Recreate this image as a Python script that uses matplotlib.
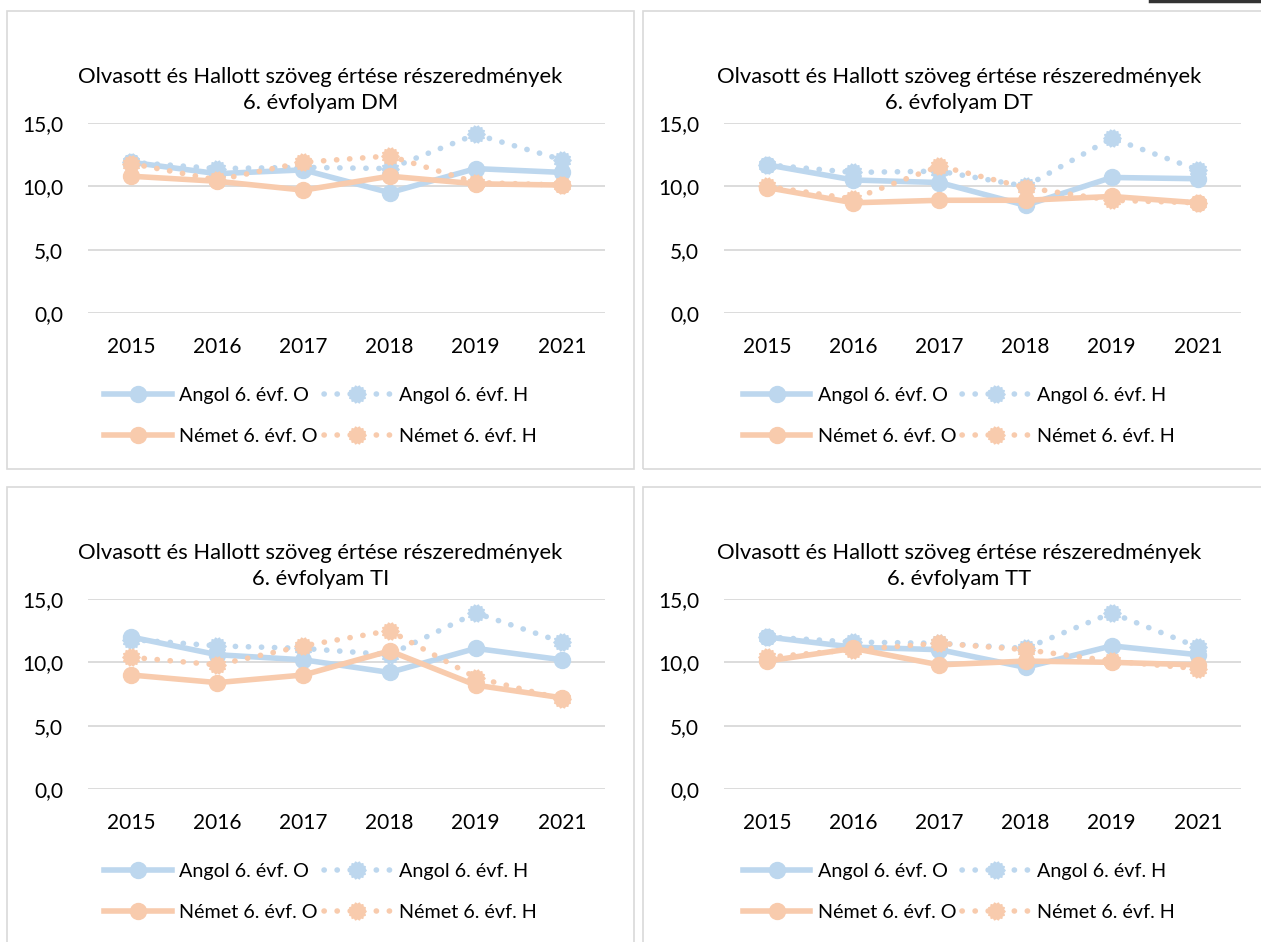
import numpy as np
import matplotlib
matplotlib.use("Agg")
import matplotlib.pyplot as plt
from matplotlib.path import Path
from matplotlib.patches import Rectangle
from matplotlib.lines import Line2D

plt.rcParams['font.family'] = ['Lato', 'DejaVu Sans']

# adatok
years = ['2015', '2016', '2017', '2018', '2019', '2021']
titles = ['6. évfolyam DM', '6. évfolyam DT', '6. évfolyam TI', '6. évfolyam TT']

angol_o = [
    [11.9, 11.0, 11.3, 9.5, 11.4, 11.1],
    [11.7, 10.5, 10.3, 8.5, 10.7, 10.6],
    [12.0, 10.6, 10.2, 9.2, 11.1, 10.2],
    [12.0, 11.2, 11.0, 9.6, 11.3, 10.6],
]
angol_h = [
    [11.9, 11.4, 11.5, 11.4, 14.1, 12.1],
    [11.7, 11.1, 11.2, 10.0, 13.8, 11.3],
    [11.8, 11.3, 11.1, 10.6, 13.9, 11.6],
    [12.0, 11.6, 11.5, 11.1, 13.9, 11.2],
]
nemet_o = [
    [10.8, 10.4, 9.7, 10.8, 10.2, 10.1],
    [9.9, 8.7, 8.9, 8.9, 9.2, 8.7],
    [9.0, 8.4, 9.0, 10.9, 8.2, 7.2],
    [10.1, 11.1, 9.8, 10.1, 10.0, 9.8],
]
nemet_h = [
    [11.8, 10.5, 11.9, 12.4, 10.3, 10.1],
    [10.0, 9.0, 11.6, 9.9, 8.9, 8.7],
    [10.4, 9.8, 11.3, 12.5, 8.8, 7.1],
    [10.4, 11.0, 11.5, 11.0, 10.1, 9.5],
]

blue = '#BDD7EE'
orange = '#F8CBAD'
grid_c = '#D9D9D9'

# fogaskerek-szeru marker a H sorokhoz
n = 28
ang = np.linspace(0, 2 * np.pi, n, endpoint=False)
rad = np.where(np.arange(n) % 2 == 0, 1.0, 0.82)
verts = np.column_stack([rad * np.cos(ang), rad * np.sin(ang)])
verts = np.vstack([verts, verts[:1]])
gear = Path(verts, [Path.MOVETO] + [Path.LINETO] * (n - 1) + [Path.CLOSEPOLY])

W, H = 1261, 942
fig = plt.figure(figsize=(W / 100, H / 100), dpi=100)

# panel dobozok (px): x0, y0(top), x1, y1(bottom)
boxes = [(7, 11, 634, 469), (643, 11, 1275, 469), (7, 487, 634, 945), (643, 487, 1275, 945)]
ax_x = [88, 724, 88, 724]
ax_top = [123, 123, 599, 599]
ax_w, ax_h = 517, 190

x = np.arange(len(years))
dot = (0, (0.05, 2.3))

for i in range(4):
    bx0, by0, bx1, by1 = boxes[i]
    fig.add_artist(Rectangle((bx0 / W, 1 - by1 / H), (bx1 - bx0) / W, (by1 - by0) / H,
                             transform=fig.transFigure, fill=False, ec=grid_c, lw=1.2))
    ax = fig.add_axes([ax_x[i] / W, 1 - (ax_top[i] + ax_h) / H, ax_w / W, ax_h / H])

    l1, = ax.plot(x, angol_o[i], color=blue, lw=4, marker='o', ms=11.5,
                  solid_joinstyle='round', label='Angol 6. évf. O')
    l2, = ax.plot(x, angol_h[i], color=blue, lw=4, ls=dot, dash_capstyle='round',
                  marker=gear, ms=12.5, label='Angol 6. évf. H')
    l3, = ax.plot(x, nemet_o[i], color=orange, lw=4, marker='o', ms=11.5,
                  solid_joinstyle='round', label='Német 6. évf. O')
    l4, = ax.plot(x, nemet_h[i], color=orange, lw=4, ls=dot, dash_capstyle='round',
                  marker=gear, ms=12.5, label='Német 6. évf. H')

    ax.set_xlim(-0.5, len(years) - 0.5)
    ax.set_ylim(0, 15)
    ax.set_yticks([0, 5, 10, 15])
    ax.set_yticklabels(['0,0', '5,0', '10,0', '15,0'])
    ax.set_xticks(x)
    ax.set_xticklabels(years)
    ax.tick_params(length=0, labelsize=15, colors='black')
    ax.tick_params(axis='y', pad=18)
    ax.tick_params(axis='x', pad=17)
    ax.grid(axis='y', color=grid_c, lw=1.3)
    ax.set_axisbelow(True)
    for s in ax.spines.values():
        s.set_visible(False)
    ax.patch.set_alpha(0)

    cx = (bx0 + bx1) / 2 / W
    fig.text(cx, 1 - (by0 + 79) / H, 'Olvasott és Hallott szöveg értése részeredmények\n' + titles[i],
             ha='center', va='center', fontsize=15.8, linespacing=1.42)

    fig.legend([l1, l3, l2, l4], [l.get_label() for l in [l1, l3, l2, l4]],
               loc='center', bbox_to_anchor=(cx, 1 - (by0 + 405) / H), ncol=2,
               frameon=False, fontsize=14.2, handlelength=3.4, numpoints=1,
               columnspacing=0.3, handletextpad=0.4, labelspacing=1.2)

# sotet vonal a jobb felso sarokban
fig.add_artist(Line2D([1150 / W, 1], [1 - 1 / H, 1 - 1 / H], transform=fig.transFigure,
                      color='#333333', lw=2.5))

fig.savefig('out.png', dpi=100, facecolor='white')
